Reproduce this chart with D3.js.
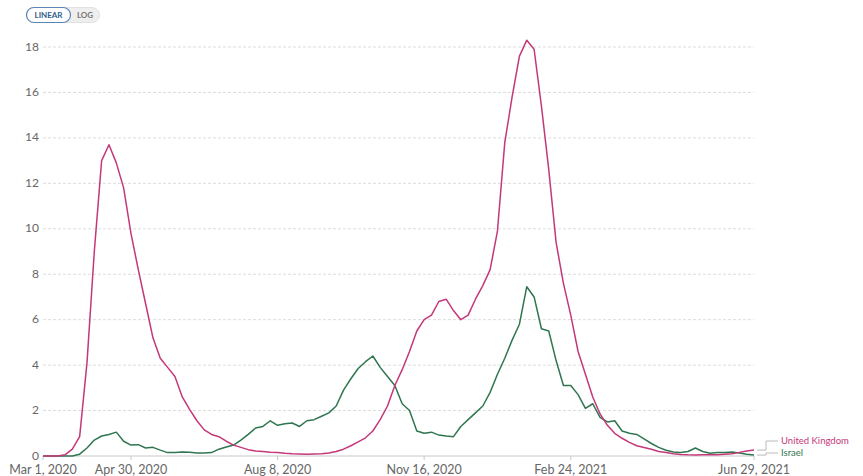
<!DOCTYPE html>
<html><head><meta charset="utf-8">
<script src="https://cdn.jsdelivr.net/npm/d3@7"></script>
<style>body{margin:0;background:#fff;} svg{display:block;font-family:Lato,"Open Sans",sans-serif;}</style>
</head><body><svg id="c" width="863" height="476"></svg>
<script>
const startDate = "2020-03-01";
const stepDays = 5;
const ukValues = [0,0,0,0.05,0.3,0.85,4.1,9.0,13.0,13.7,12.9,11.8,9.8,8.2,6.7,5.2,4.3,3.9,3.5,2.6,2.05,1.55,1.15,0.95,0.85,0.65,0.48,0.38,0.28,0.22,0.2,0.17,0.15,0.12,0.1,0.09,0.08,0.09,0.1,0.13,0.2,0.3,0.45,0.62,0.8,1.1,1.6,2.2,3.1,3.8,4.6,5.5,6.0,6.2,6.8,6.9,6.4,6.0,6.2,6.9,7.5,8.2,9.9,13.8,15.8,17.6,18.3,17.9,15.4,12.6,9.4,7.6,6.2,4.6,3.6,2.6,1.85,1.35,1.0,0.78,0.6,0.45,0.37,0.3,0.2,0.15,0.1,0.07,0.05,0.04,0.05,0.05,0.06,0.08,0.1,0.16,0.22,0.26];
const israelValues = [0,0,0,0,0,0.08,0.35,0.7,0.88,0.95,1.05,0.65,0.48,0.5,0.35,0.38,0.26,0.15,0.15,0.18,0.16,0.13,0.13,0.15,0.3,0.4,0.48,0.7,0.95,1.23,1.3,1.55,1.35,1.42,1.45,1.3,1.55,1.6,1.75,1.9,2.2,2.9,3.4,3.85,4.15,4.4,3.9,3.5,3.1,2.3,2.0,1.1,1.0,1.05,0.92,0.88,0.85,1.3,1.6,1.9,2.2,2.8,3.6,4.3,5.1,5.8,7.45,7.0,5.6,5.5,4.2,3.1,3.1,2.7,2.1,2.3,1.7,1.5,1.55,1.1,1.0,0.95,0.75,0.55,0.38,0.25,0.18,0.15,0.2,0.35,0.2,0.12,0.15,0.15,0.18,0.13,0.08,0.04];
const yTicks = [0,2,4,6,8,10,12,14,16,18];
const xTickDates = ["2020-03-01","2020-04-30","2020-08-08","2020-11-16","2021-02-24","2021-06-29"];
const seriesNames = ["United Kingdom","Israel"];
const seriesColors = ["#c4387a","#2f7650"];

const parse = d3.utcParse("%Y-%m-%d");
const t0 = parse(startDate);
const dates = ukValues.map((_, i) => d3.utcDay.offset(t0, i * stepDays));
const series = [ukValues, israelValues].map((vals, k) => ({name: seriesNames[k], color: seriesColors[k], pts: vals.map((v, i) => ({d: dates[i], v}))}));

const svg = d3.select("#c");
const x = d3.scaleUtc().domain([t0, parse("2021-06-29")]).range([43, 754]);
const y = d3.scaleLinear().domain([0, 18]).range([456, 47]);

// grid
const g = svg.append("g");
g.selectAll("line.grid").data(yTicks).join("line")
  .attr("x1", 43).attr("x2", 754)
  .attr("y1", d => y(d)).attr("y2", d => y(d))
  .attr("stroke", d => d === 0 ? "#c8c8c8" : "#dddddd")
  .attr("stroke-width", 1)
  .attr("stroke-dasharray", d => d === 0 ? null : "3,2");
g.selectAll("text.yl").data(yTicks).join("text")
  .attr("x", 39).attr("y", d => y(d)).attr("dy", "0.3em")
  .attr("text-anchor", "end").attr("fill", "#666").attr("font-size", 12)
  .text(d => d);

// x axis
const fmt = d3.utcFormat("%b %-d, %Y");
const xt = xTickDates.map(parse);
g.selectAll("line.xt").data(xt).join("line")
  .attr("x1", d => x(d)).attr("x2", d => x(d)).attr("y1", 456).attr("y2", 460)
  .attr("stroke", "#c8c8c8");
g.selectAll("text.xl").data(xt).join("text")
  .attr("x", d => x(d)).attr("y", 474)
  .attr("text-anchor", "middle").attr("fill", "#666").attr("font-size", 12.5)
  .text(d => fmt(d));

// lines
const line = d3.line().x(p => x(p.d)).y(p => y(p.v)).curve(d3.curveLinear);
svg.selectAll("path.s").data(series.slice().reverse()).join("path")
  .attr("fill", "none").attr("stroke", s => s.color).attr("stroke-width", 1.5)
  .attr("stroke-linejoin", "round")
  .attr("d", s => line(s.pts));

// legend
const legY = [441, 453];
series.forEach((s, k) => {
  const last = s.pts[s.pts.length - 1];
  const ly = y(last.v);
  svg.append("path").attr("fill", "none").attr("stroke", "#bbb").attr("stroke-width", 1)
    .attr("d", `M${x(last.d) + 3},${ly} H${766} V${legY[k]} H${778}`);
  svg.append("text").attr("x", 781).attr("y", legY[k]).attr("dy", "0.35em")
    .attr("fill", s.color).attr("font-size", 9.5).text(s.name);
});

// toggle
const tg = svg.append("g");
tg.append("rect").attr("x", 26.5).attr("y", 7.5).attr("width", 73).attr("height", 15).attr("rx", 7.5)
  .attr("fill", "#eeeeee").attr("stroke", "#e2e2e2");
tg.append("rect").attr("x", 26.5).attr("y", 7.5).attr("width", 44).attr("height", 15).attr("rx", 7.5)
  .attr("fill", "#fff").attr("stroke", "#5a86b5").attr("stroke-width", 1.2);
tg.append("text").attr("x", 48.5).attr("y", 15.5).attr("dy", "0.35em").attr("text-anchor", "middle")
  .attr("font-size", 8).attr("font-weight", 700).attr("fill", "#2f5d8c").text("LINEAR");
tg.append("text").attr("x", 85).attr("y", 15.5).attr("dy", "0.35em").attr("text-anchor", "middle")
  .attr("font-size", 8).attr("font-weight", 700).attr("fill", "#777").text("LOG");
</script></body></html>
